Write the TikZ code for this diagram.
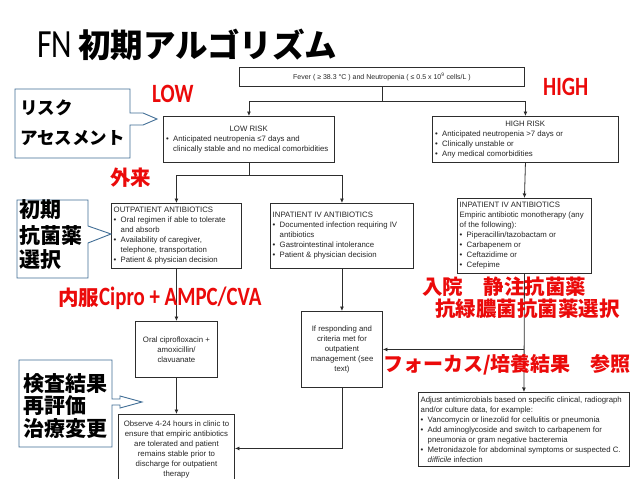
\documentclass[tikz,border=0pt]{standalone}
\usepackage{fontspec}
\setmainfont{Liberation Sans}
\newfontfamily\jp{Noto Sans CJK JP}
\newfontfamily\carl{Carlito}[FakeStretch=0.79]
\usetikzlibrary{arrows.meta}
\definecolor{ln}{RGB}{45,45,45}
\definecolor{cb}{RGB}{65,110,150}
\definecolor{rd}{RGB}{235,10,10}
\newcommand\bu{\makebox[7pt][l]{\textbullet}}
\newcommand\ind{\hspace*{7pt}}
\begin{document}
\begin{tikzpicture}[x=1pt,y=-1pt,
  box/.style={draw=ln, line width=0.9pt, inner sep=0pt, anchor=north west},
  txt/.style={inner sep=0pt, font=\fontsize{7.8}{10}\selectfont, align=left, text=black!85, anchor=west},
  ctxt/.style={inner sep=0pt, font=\fontsize{7.8}{10}\selectfont, align=center, text=black!85},
  conn/.style={draw=ln, line width=0.8pt},
  arr/.style={conn, -{Latex[length=4.5pt,width=4pt]}},
  redlbl/.style={text=rd, inner sep=0pt, anchor=base west, font=\jp\bfseries\fontsize{20.5}{24}\selectfont},
  callout/.style={draw=cb, line width=0.9pt, fill=white},
  calltxt/.style={inner sep=0pt, anchor=base west, font=\jp\bfseries\fontsize{21}{24}\selectfont}
]
\useasboundingbox (0,0) rectangle (638,479);
\fill[white] (0,0) rectangle (638,479);

% title
\node[anchor=base west, inner sep=0pt] (title) at (37,57)
  {{\carl\fontsize{40}{42}\selectfont FN}\hspace{6pt}{\jp\bfseries\fontsize{32.5}{36}\selectfont 初期アルゴリズム}};

% boxes
\node[box, minimum width=285, minimum height=19] (fever) at (239,67) {};
\node[box, minimum width=171, minimum height=46] (low) at (163,116) {};
\node[box, minimum width=186, minimum height=46] (high) at (432,116) {};
\node[box, minimum width=130, minimum height=65] (outp) at (111,203) {};
\node[box, minimum width=143, minimum height=65] (inpm) at (270,203) {};
\node[box, minimum width=134, minimum height=75] (inph) at (457,198) {};
\node[box, minimum width=82, minimum height=56] (oral) at (135,321) {};
\node[box, minimum width=81, minimum height=76] (resp) at (301,311) {};
\node[box, minimum width=116, minimum height=68] (obs) at (118,414) {};
\node[box, minimum width=211, minimum height=74] (adj) at (418,392) {};

% box texts
\node[ctxt, font=\fontsize{7}{9}\selectfont] (fevert) at (fever.center) {Fever ( ≥ 38.3 °C ) and Neutropenia ( ≤ 0.5 x 10\textsuperscript{9} cells/L )};
\node[txt] (lowt) at ([xshift=3pt]low.west) {\makebox[165pt][c]{LOW RISK}\\
\bu Anticipated neutropenia ≤7 days and\\
\ind clinically stable and no medical comorbidities};
\node[txt] (hight) at ([xshift=3pt]high.west) {\makebox[180pt][c]{HIGH RISK}\\
\bu Anticipated neutropenia >7 days or\\
\bu Clinically unstable or\\
\bu Any medical comorbidities};
\node[txt] (outpt) at ([xshift=2.5pt]outp.west) {OUTPATIENT ANTIBIOTICS\\
\bu Oral regimen if able to tolerate\\
\ind and absorb\\
\bu Availability of caregiver,\\
\ind telephone, transportation\\
\bu Patient \& physician decision};
\node[txt] (inpmt) at ([xshift=2.5pt]inpm.west) {INPATIENT IV ANTIBIOTICS\\
\bu Documented infection requiring IV\\
\ind antibiotics\\
\bu Gastrointestinal intolerance\\
\bu Patient \& physician decision};
\node[txt] (inpht) at ([xshift=2.5pt]inph.west) {INPATIENT IV ANTIBIOTICS\\
Empiric antibiotic monotherapy (any\\
of the following):\\
\bu Piperacillin/tazobactam or\\
\bu Carbapenem or\\
\bu Ceftazidime or\\
\bu Cefepime};
\node[ctxt] (oralt) at (oral.center) {Oral ciprofloxacin +\\ amoxicillin/\\ clavuanate};
\node[ctxt] (respt) at (resp.center) {If responding and\\ criteria met for\\ outpatient\\ management (see\\ text)};
\node[ctxt] (obst) at ([yshift=-1pt]obs.center) {Observe 4-24 hours in clinic to\\ ensure that empiric antibiotics\\ are tolerated and patient\\ remains stable prior to\\ discharge for outpatient\\ therapy};
\node[txt] (adjt) at ([xshift=2.5pt]adj.west) {Adjust antimicrobials based on specific clinical, radiograph\\
and/or culture data, for example:\\
\bu Vancomycin or linezolid for cellulitis or pneumonia\\
\bu Add aminoglycoside and switch to carbapenem for\\
\ind pneumonia or gram negative bacteremia\\
\bu Metronidazole for abdominal symptoms or suspected C.\\
\ind \textit{difficile} infection};

% connectors
\coordinate (b1) at (fever.south |- 0,101);
\draw[conn] (fever.south) -- (b1);
\draw[arr] (b1) -| (low.north);
\draw[arr] (b1) -| (high.north);
\coordinate (b2) at (low.south |- 0,175);
\draw[conn] (low.south) -- (b2);
\draw[arr] (b2) -| (outp.north);
\draw[arr] (b2) -| (inpm.north);
\draw[arr] (high.south) -- (inph.north);
\draw[arr] (outp.south) -- (oral.north);
\draw[arr] (oral.south) -- (obs.north);
\draw[arr] (inpm.south) -- (resp.north);
\draw[arr] (resp.south) |- (obs.east);
\draw[arr] (inph.south) -- (adj.north);
\coordinate (b3) at (adj.north |- resp.east);
\draw[arr] (b3) -- (resp.east);

% red labels
\node[redlbl, font=\carl\bfseries\fontsize{26.4}{28}\selectfont] (lowl) at (152,102) {LOW};
\node[redlbl, font=\carl\bfseries\fontsize{26.4}{28}\selectfont] (highl) at (543,95) {HIGH};
\node[redlbl] (gairai) at (110,185.5) {外来};
\node[redlbl] (naifuku) at (58,305) {内服{\carl\fontsize{26.4}{28}\selectfont Cipro + AMPC/CVA}};
\node[redlbl] (nyuin) at (422,294) {入院　静注抗菌薬};
\node[redlbl] (kouryoku) at (435,316.5) {抗緑膿菌抗菌薬選択};
\node[redlbl, font=\jp\bfseries\fontsize{20}{24}\selectfont] (focus) at (383,371) {フォーカス/培養結果　参照};

% callouts
\draw[callout] (15,89) -- (130,89) -- (130,113) -- (143,113) -- (157,119) -- (143,125) -- (130,125) -- (130,158) -- (15,158) -- cycle;
\node[calltxt, font=\jp\bfseries\fontsize{17.5}{24}\selectfont] (risk1) at (20,114) {リスク};
\node[calltxt, font=\jp\bfseries\fontsize{17.5}{24}\selectfont] (risk2) at (20,144) {アセスメント};

\draw[callout] (17,200) -- (88,200) -- (88,226) -- (111,234) -- (88,243) -- (88,278) -- (17,278) -- cycle;
\node[calltxt] (shoki1) at (19,217) {初期};
\node[calltxt] (shoki2) at (19,243) {抗菌薬};
\node[calltxt] (shoki3) at (19,267) {選択};

\draw[callout] (19,360) -- (112,360) -- (112,399) -- (120,399) -- (120,396) -- (142,402) -- (120,408) -- (120,405) -- (112,405) -- (112,447) -- (19,447) -- cycle;
\node[calltxt] (kensa1) at (23,391) {検査結果};
\node[calltxt] (kensa2) at (23,413) {再評価};
\node[calltxt] (kensa3) at (23,436) {治療変更};
\end{tikzpicture}
\end{document}
